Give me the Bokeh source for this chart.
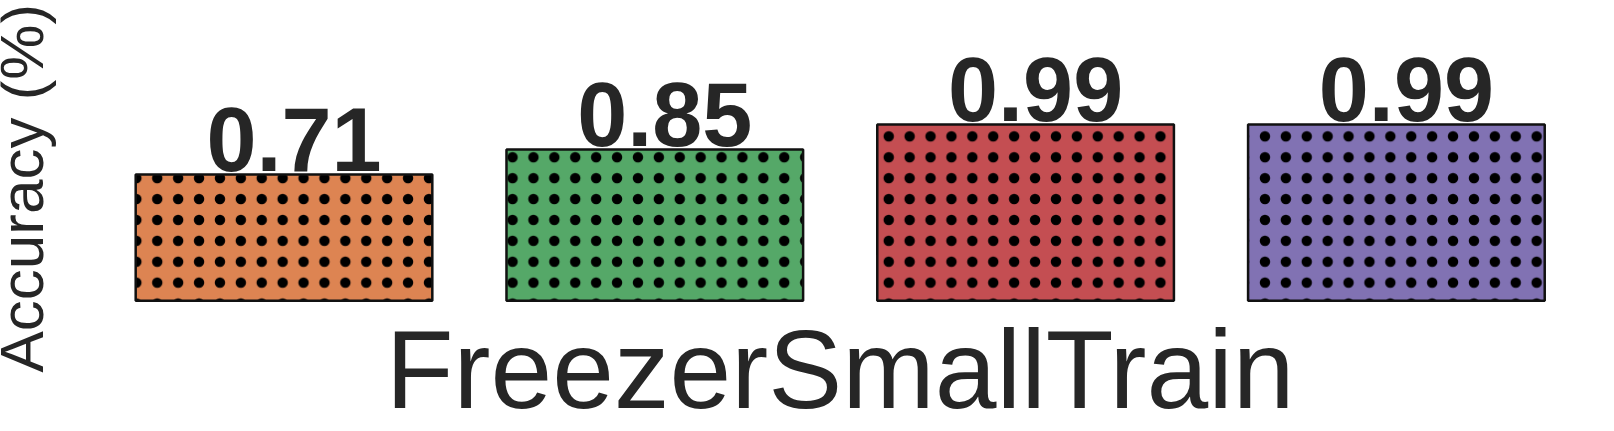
import numpy as np
from bokeh.plotting import figure
from bokeh.models import ColumnDataSource, Range1d
from bokeh.core.properties import value
from bokeh.embed import file_html
from bokeh.resources import INLINE

# ---- data ----
dataset = "FreezerSmallTrain"
y_label = "Accuracy (%)"
series = ["Method 1", "Method 2", "Method 3", "Method 4"]
accuracy = [0.71, 0.85, 0.99, 0.99]
colors = ["#DD8452", "#55A868", "#C44E52", "#8172B3"]

# ---- layout (pixels in figure space, origin top-left) ----
W, H = 1614, 431
x0_px = 283.5        # pixel of first bar centre
unit_px = 370.8      # pixels per category step
base_px = 300.3      # pixel of y = 0
ppu_y = 178.0        # pixels per accuracy unit
CAP = 0.358          # half cap-height as a fraction of font size

x_start = -x0_px / unit_px
x_end = (W - x0_px) / unit_px
y_start = -(H - base_px) / ppu_y
y_end = base_px / ppu_y

def px_to_x(px):
    return (px - x0_px) / unit_px

def py_to_y(py):
    return (base_px - py) / ppu_y

p = figure(width=W, height=H, output_backend="svg", toolbar_location=None,
           x_range=Range1d(x_start, x_end), y_range=Range1d(y_start, y_end),
           x_axis_location=None, y_axis_location=None, min_border=0)
p.outline_line_color = None
p.xgrid.visible = False
p.ygrid.visible = False
p.background_fill_color = "white"
p.border_fill_color = "white"

lab_size = 90
idx = list(range(len(accuracy)))
src = ColumnDataSource(dict(x=idx, top=accuracy, color=colors, name=series,
                            lx=[i + 10 / unit_px for i in idx],
                            ly=[a + (3 + CAP * lab_size) / ppu_y for a in accuracy],
                            label=[f"{a:.2f}" for a in accuracy]))

p.vbar(x="x", top="top", bottom=0, width=0.8, source=src,
       fill_color="color", line_color="#111111", line_width=2.5,
       hatch_pattern="dot", hatch_color="black", hatch_scale=20.9, hatch_weight=0.4)

p.text(x="lx", y="ly", text="label", source=src,
       text_font=value("Liberation Sans"), text_font_style="bold",
       text_font_size=f"{lab_size}px", text_color="#262626",
       text_align="center", text_baseline="middle")

# x axis label (centred under the bar group)
xl_size = 111
p.text(x=[(len(accuracy) - 1) / 2], y=[py_to_y(409.3 - CAP * xl_size)], text=[dataset],
       text_font=value("Liberation Sans"), text_font_size=f"{xl_size}px",
       text_color="#262626", text_align="center", text_baseline="middle")

# y axis label (rotated)
yl_size = 62
p.text(x=[px_to_x(43 - CAP * yl_size)], y=[py_to_y(372)], text=[y_label], angle=np.pi / 2,
       text_font=value("Liberation Sans"), text_font_size=f"{yl_size}px",
       text_color="#262626", text_align="left", text_baseline="middle")

open("out.html", "w").write(file_html(p, INLINE))
